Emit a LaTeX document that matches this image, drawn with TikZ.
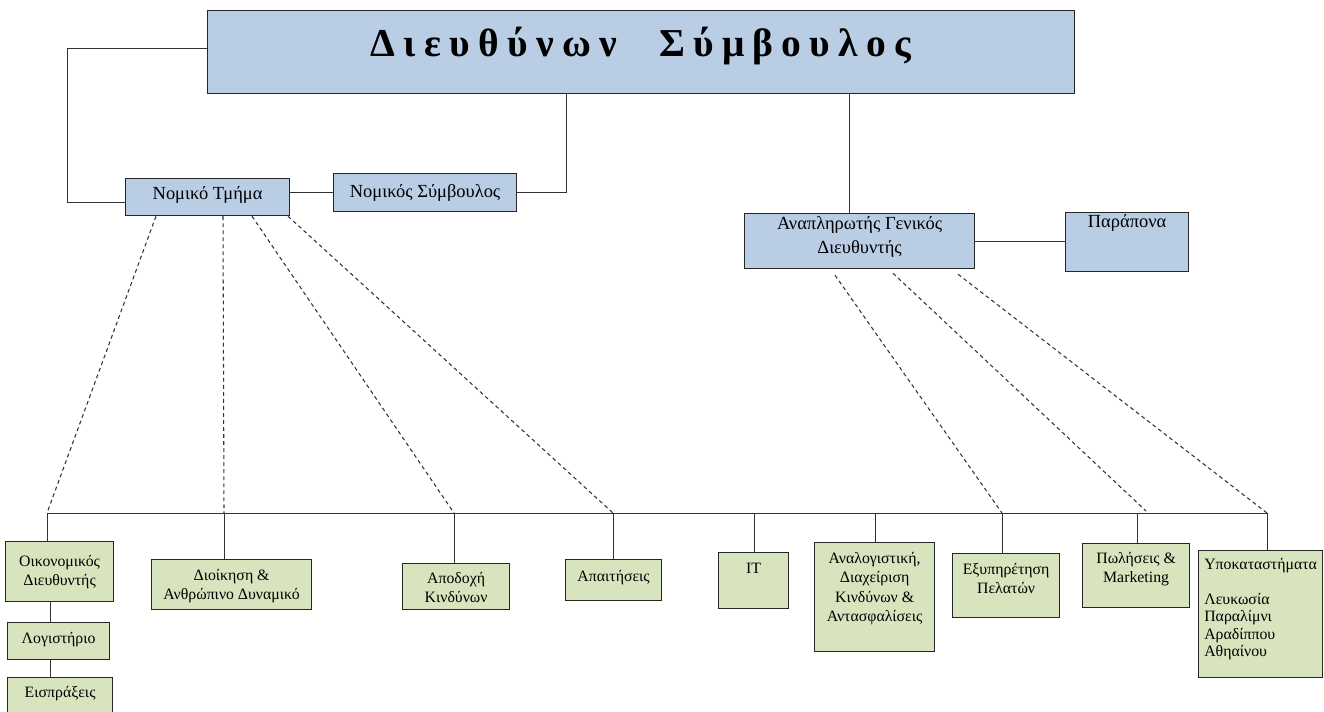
\documentclass[tikz,border=0pt]{standalone}
\usepackage{fontspec}
\setmainfont{Liberation Serif}
\newfontfamily\titlefont[LetterSpace=21]{Liberation Serif}
\usetikzlibrary{calc}

\definecolor{ceoblue}{HTML}{B9CDE5}
\definecolor{unitgreen}{HTML}{D7E4BD}

\newcommand{\rows}[1]{\begin{tabular}[t]{@{}c@{}}#1\end{tabular}}
\newcommand{\lrows}[1]{\begin{tabular}[t]{@{}l@{}}#1\end{tabular}}

\begin{document}
\begin{tikzpicture}[x=0.02cm, y=-0.02cm,
    box/.style={draw=black!85, line width=0.7pt, anchor=north west, inner ysep=0pt, inner xsep=2pt},
    topbox/.style={box, fill=ceoblue, font=\fontsize{10.5}{13.6}\selectfont},
    unitbox/.style={box, fill=unitgreen, font=\fontsize{9}{11}\selectfont},
    link/.style={black!80, line width=0.55pt},
    dotlink/.style={black!80, line width=0.6pt, dash pattern=on 2.2pt off 1.8pt}]

    \useasboundingbox (0,0) rectangle (1324,711);



    \node[topbox, minimum width=17.34cm, text height=0.92cm, text depth=0.74cm,
      font=\titlefont\bfseries\fontsize{22.5}{26}\selectfont] (ceo) at (207,10) {Διευθύνων\hspace{0.6em} Σύμβουλος};

    \node[topbox, minimum width=3.28cm, text height=0.42cm, text depth=0.32cm] (nomt) at (125,178) {Νομικό Τμήμα};

    \node[topbox, minimum width=3.66cm, text height=0.48cm, text depth=0.28cm] (noms) at (333,173) {Νομικός Σύμβουλος};

    \node[topbox, minimum width=4.6cm, text height=0.32cm, text depth=0.78cm] (anap) at (744,213) {\rows{Αναπληρωτής Γενικός\\ Διευθυντής}};

    \node[topbox, minimum width=2.46cm, text height=0.3cm, text depth=0.88cm] (parap) at (1065,212) {Παράπονα};



    \node[unitbox, minimum width=2.16cm, text height=0.5cm, text depth=0.7cm] (oik) at (5,541) {\rows{Οικονομικός\\ Διευθυντής}};

    \node[unitbox, minimum width=2.04cm, text height=0.42cm, text depth=0.32cm] (logist) at (7,622) {Λογιστήριο};

    \node[unitbox, minimum width=2.1cm, text height=0.4cm, text depth=0.32cm] (eispr) at (7,677) {Εισπράξεις};

    \node[unitbox, minimum width=3.2cm, text height=0.42cm, text depth=0.58cm] (dioik) at (151,559) {\rows{Διοίκηση \&\\ Ανθρώπινο Δυναμικό}};

    \node[unitbox, minimum width=2.14cm, text height=0.4cm, text depth=0.52cm] (apod) at (402,563) {\rows{Αποδοχή\\ Κινδύνων}};

    \node[unitbox, minimum width=1.92cm, text height=0.44cm, text depth=0.38cm] (apait) at (565,559) {Απαιτήσεις};

    \node[unitbox, minimum width=1.4cm, text height=0.42cm, text depth=0.7cm] (it) at (718,552) {IT};

    \node[unitbox, minimum width=2.4cm, text height=0.42cm, text depth=1.76cm] (anal) at (814,542) {\rows{Αναλογιστική,\\ Διαχείριση\\ Κινδύνων \&\\ Αντασφαλίσεις}};

    \node[unitbox, minimum width=2.14cm, text height=0.42cm, text depth=0.86cm] (exyp) at (952,553) {\rows{Εξυπηρέτηση\\ Πελατών}};

    \node[unitbox, minimum width=2.14cm, text height=0.4cm, text depth=0.88cm] (pol) at (1082,543) {\rows{Πωλήσεις \&\\ Marketing}};

    \node[unitbox, minimum width=2.48cm, text height=0.38cm, text depth=2.16cm] (ypok) at (1198,550)
      {\renewcommand{\arraystretch}{0.9}\lrows{Υποκαταστήματα\\ \\ Λευκωσία\\ Παραλίμνι\\ Αραδίππου\\ Αθηαίνου}};



    \draw[link] ([yshift=0.07cm]ceo.west) -- ++(-140,0) |- ([yshift=-0.11cm]nomt.west);

    \draw[link] (noms.west) -- (noms.west -| nomt.east);

    \draw[link] (noms.east) -| ($(ceo.south west)+(359,0)$);

    \coordinate (cdrop) at ([xshift=-0.2cm]anap.north);
    \draw[link] (cdrop) -- (cdrop |- ceo.south);

    \draw[link] (anap.east) -- (anap.east -| parap.west);



    \coordinate (t1) at (47,513);
    \coordinate (t2) at (224,513);
    \coordinate (t3) at (454,513);
    \coordinate (t4) at (613,513);
    \coordinate (t5) at (754,513);
    \coordinate (t6) at (875,513);
    \coordinate (t7) at (1002,513);
    \coordinate (t8) at (1137,513);
    \coordinate (t9) at (1267,513);

    \draw[link] (t1) -- (t9);

    \draw[link] (t1) -- (t1 |- oik.north);
    \draw[link] (t2) -- (t2 |- dioik.north);
    \draw[link] (t3) -- (t3 |- apod.north);
    \draw[link] (t4) -- (t4 |- apait.north);
    \draw[link] (t5) -- (t5 |- it.north);
    \draw[link] (t6) -- (t6 |- anal.north);
    \draw[link] (t7) -- (t7 |- exyp.north);
    \draw[link] (t8) -- (t8 |- pol.north);
    \draw[link] (t9) -- (t9 |- ypok.north);

    \path (logist.north west) ++(43,0) coordinate (lg);
    \draw[link] (lg) -- (lg |- oik.south);
    \draw[link] (lg |- eispr.north) -- (lg |- logist.south);



    \draw[dotlink] ($(nomt.south west)+(31,0)$) -- (t1);
    \draw[dotlink] ($(nomt.south west)+(98,0)$) -- (t2);
    \draw[dotlink] ($(nomt.south west)+(127,0)$) -- (t3);
    \draw[dotlink] ($(nomt.south west)+(163,0)$) -- (t4);

    \coordinate (pend) at (1146,511);
    \draw[dotlink] ($(anap.south west)+(91,6)$) -- (t7);
    \draw[dotlink] ($(anap.south west)+(149,4)$) -- (pend);
    \draw[dotlink] ($(anap.south west)+(214,5)$) -- (t9);

  \end{tikzpicture}
\end{document}
